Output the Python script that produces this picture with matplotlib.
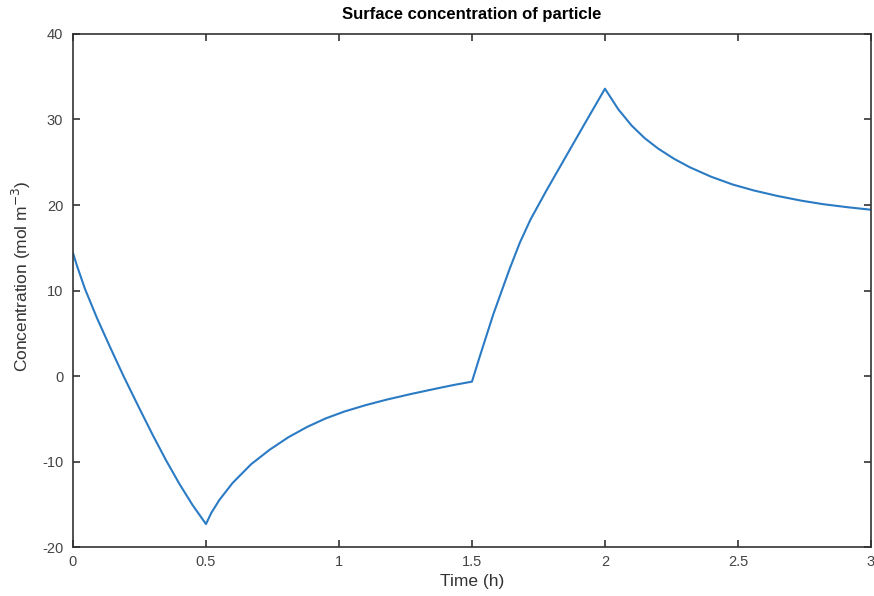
import numpy as np
import matplotlib.pyplot as plt

plt.rcParams['font.family'] = ['Liberation Sans', 'DejaVu Sans']
plt.rcParams['axes.unicode_minus'] = False

# values
time_h = [0.0, 0.015, 0.045, 0.09, 0.14, 0.19, 0.25, 0.30, 0.35, 0.40, 0.45, 0.5,
          0.52, 0.55, 0.6, 0.67, 0.74, 0.81, 0.88, 0.95, 1.02, 1.1, 1.18,
          1.27, 1.36, 1.43, 1.5,
          1.53, 1.58, 1.64, 1.68, 1.72, 1.78, 1.85, 1.92, 2.0,
          2.05, 2.1, 2.15, 2.2, 2.26, 2.32, 2.4, 2.48, 2.56, 2.65,
          2.74, 2.82, 2.91, 3.0]
concentration = [14.4, 12.9, 10.2, 6.8, 3.35, 0.0, -3.8, -6.9, -9.85, -12.6, -15.1, -17.3,
                 -16.0, -14.5, -12.5, -10.3, -8.6, -7.15, -5.95, -4.95, -4.15, -3.4, -2.75,
                 -2.1, -1.5, -1.05, -0.65,
                 2.35, 7.2, 12.4, 15.6, 18.3, 21.7, 25.5, 29.3, 33.6,
                 31.2, 29.3, 27.8, 26.6, 25.4, 24.4, 23.3, 22.4, 21.7, 21.05,
                 20.5, 20.1, 19.75, 19.45]

x_ticks = [0, 0.5, 1, 1.5, 2, 2.5, 3]
x_tick_labels = ['0', '0.5', '1', '1.5', '2', '2.5', '3']
y_ticks = [-20, -10, 0, 10, 20, 30, 40]

fig = plt.figure(figsize=(8.74, 5.96), dpi=100)
ax = fig.add_axes([0.0835, 0.082, 0.913, 0.861])

ax.plot(time_h, concentration, color='#2b7bc4', linewidth=1.5)

ax.set_xlim(0, 3)
ax.set_ylim(-20, 40)
ax.set_xticks(x_ticks)
ax.set_xticklabels(x_tick_labels)
ax.set_yticks(y_ticks)

ax.tick_params(direction='in', top=True, right=True, length=5, width=1.2,
               colors='#333333', labelcolor='#444444', labelsize=10.5)
ax.tick_params(axis='x', pad=6)
ax.tick_params(axis='y', pad=7)
for spine in ax.spines.values():
    spine.set_color('#333333')
    spine.set_linewidth(1.2)

ax.set_title('Surface concentration of particle', fontsize=12,
             fontweight='bold', pad=11)
ax.set_xlabel('Time (h)', fontsize=12.5, color='#333333', labelpad=3)
ax.set_ylabel('Concentration (mol m$^{-3}$)', fontsize=12.5, color='#333333')
ax.yaxis.set_label_coords(-0.05, 0.527)

fig.savefig('out.png', dpi=100)
